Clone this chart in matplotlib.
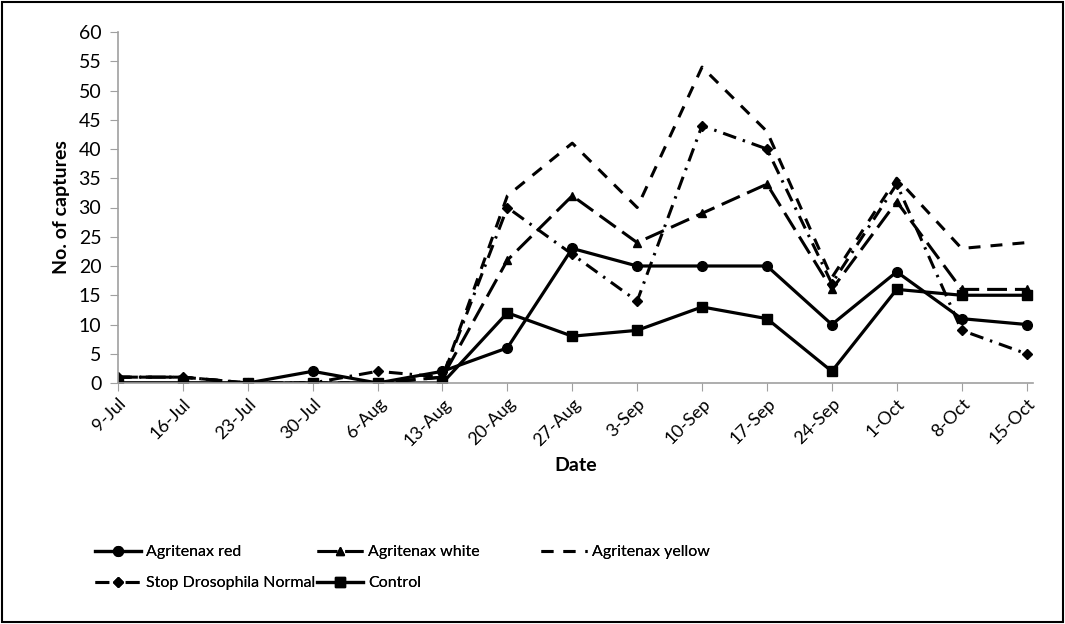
import matplotlib.pyplot as plt
from matplotlib.patches import Rectangle

plt.rcParams['font.family'] = ['Lato', 'DejaVu Sans']

dates = ['9-Jul', '16-Jul', '23-Jul', '30-Jul', '6-Aug', '13-Aug', '20-Aug', '27-Aug',
         '3-Sep', '10-Sep', '17-Sep', '24-Sep', '1-Oct', '8-Oct', '15-Oct']
red = [0, 0, 0, 2, 0, 2, 6, 23, 20, 20, 20, 10, 19, 11, 10]
white = [1, 1, 0, 0, 0, 1, 21, 32, 24, 29, 34, 16, 31, 16, 16]
yellow = [1, 1, 0, 0, 0, 1, 32, 41, 30, 54, 43, 18, 35, 23, 24]
stop_normal = [1, 1, 0, 0, 2, 1, 30, 22, 14, 44, 40, 17, 34, 9, 5]
control = [0, 0, 0, 0, 0, 0, 12, 8, 9, 13, 11, 2, 16, 15, 15]

W, H = 1065, 624
fig = plt.figure(figsize=(W / 100, H / 100), dpi=100)
ax = fig.add_axes([118/W, 1 - 383/H, (1033-118)/W, (383-32)/H])

x = list(range(len(dates)))
h_red, = ax.plot(x, red, color='black', lw=2.3, marker='o', ms=7, label='Agritenax red')
h_white, = ax.plot(x, white, color='black', lw=2.2, marker='^', ms=6,
                   dashes=(6.5, 2.6), label='Agritenax white')
h_yellow, = ax.plot(x, yellow, color='black', lw=2.2, dashes=(3.9, 3.3),
                    label='Agritenax yellow')
h_stop, = ax.plot(x, stop_normal, color='black', lw=2.2, marker='D', ms=5,
                  dashes=(4.5, 2.3, 0.8, 2.3), label='Stop Drosophila Normal')
h_ctrl, = ax.plot(x, control, color='black', lw=2.3, marker='s', ms=7, label='Control')

ax.set_xlim(0, len(dates) - 1 + 0.1)
ax.set_ylim(0, 60)
ax.set_yticks(range(0, 61, 5))
ax.set_xticks(x)
ax.set_xticklabels(dates, rotation=45, ha='right', rotation_mode='anchor', fontsize=13)
ax.tick_params(axis='y', labelsize=14, direction='out', length=6, color='#a0a0a0', pad=6)
ax.tick_params(axis='x', direction='out', length=6, color='#a0a0a0', pad=3)
for s in ['top', 'right']:
    ax.spines[s].set_visible(False)
for s in ['left', 'bottom']:
    ax.spines[s].set_color('#a0a0a0')
    ax.spines[s].set_linewidth(1.2)

ax.set_ylabel('No. of captures', fontsize=14, fontweight='bold', labelpad=6)
ax.set_xlabel('Date', fontsize=14, fontweight='bold', labelpad=6)

# legend laid out in three fixed-width columns, like the spreadsheet original
columns = [([h_red, h_stop], 95), ([h_white, h_ctrl], 317), ([h_yellow], 541)]
for hs, left in columns:
    leg = fig.legend(hs, [h.get_label() for h in hs], loc='upper left',
                     bbox_to_anchor=(left / W, 1 - 545 / H), frameon=False, fontsize=11.5,
                     handlelength=2.9, handletextpad=0.3, labelspacing=1.05,
                     borderpad=0, borderaxespad=0)
    fig.add_artist(leg)

fig.patches.append(Rectangle((0.002, 0.003), 0.996, 0.994, transform=fig.transFigure,
                             fill=False, edgecolor='black', lw=1.5))

fig.savefig('out.png', dpi=100)
